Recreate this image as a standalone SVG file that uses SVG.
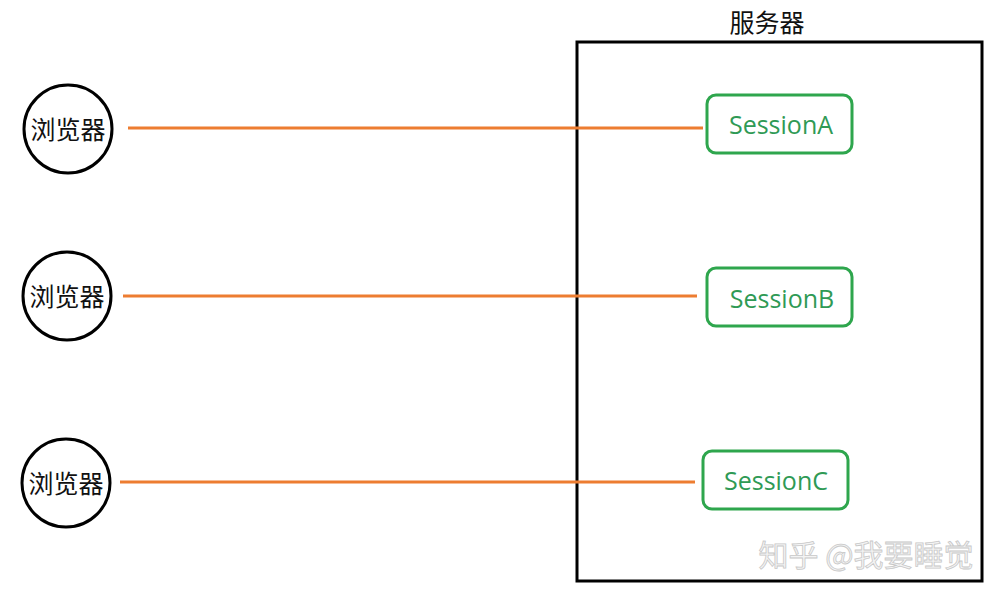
<svg xmlns="http://www.w3.org/2000/svg" width="1000" height="595" viewBox="0 0 1000 595">
<style>
.browser{fill:#fff;stroke:#000;stroke-width:3}
.btxt{font-family:"Noto Sans CJK SC",sans-serif;font-size:25px;fill:#111;text-anchor:middle;dominant-baseline:central}
.sess{fill:#fff;stroke:#2ea64d;stroke-width:3}
.stxt{font-family:"Open Sans","Noto Sans",sans-serif;font-size:25px;fill:#2f9a55;text-anchor:middle;dominant-baseline:central}
.conn{stroke:#ed7d31;stroke-width:3;fill:none}
</style>
<rect width="1000" height="595" fill="#fff"/>
<g id="server">
<rect x="577" y="42" width="405" height="539" fill="none" stroke="#000" stroke-width="3"/>
<text x="767" y="21" class="btxt">服务器</text>
</g>
<g id="connectors">
<line class="conn" x1="128" y1="128" x2="703" y2="128"/>
<line class="conn" x1="123" y1="296" x2="697" y2="296"/>
<line class="conn" x1="120" y1="482" x2="695" y2="482"/>
</g>
<g id="browser1"><circle class="browser" cx="68" cy="129" r="44"/><text class="btxt" x="68" y="128">浏览器</text></g>
<g id="browser2"><circle class="browser" cx="67" cy="296" r="44"/><text class="btxt" x="67" y="295">浏览器</text></g>
<g id="browser3"><circle class="browser" cx="66" cy="483" r="44"/><text class="btxt" x="66" y="482">浏览器</text></g>
<g id="sessionA"><rect class="sess" x="707" y="95" width="145" height="58" rx="9"/><text class="stxt" x="781" y="124">SessionA</text></g>
<g id="sessionB"><rect class="sess" x="707" y="268" width="145" height="58" rx="9"/><text class="stxt" x="782" y="298">SessionB</text></g>
<g id="sessionC"><rect class="sess" x="703" y="451" width="145" height="58" rx="9"/><text class="stxt" x="776" y="480">SessionC</text></g>
<text x="866" y="553" font-family="Noto Sans CJK SC, sans-serif" font-size="30" fill="#f4f4f4" stroke="#c8c8c8" stroke-width="0.8" text-anchor="middle" dominant-baseline="central">知乎 @我要睡觉</text>
</svg>
